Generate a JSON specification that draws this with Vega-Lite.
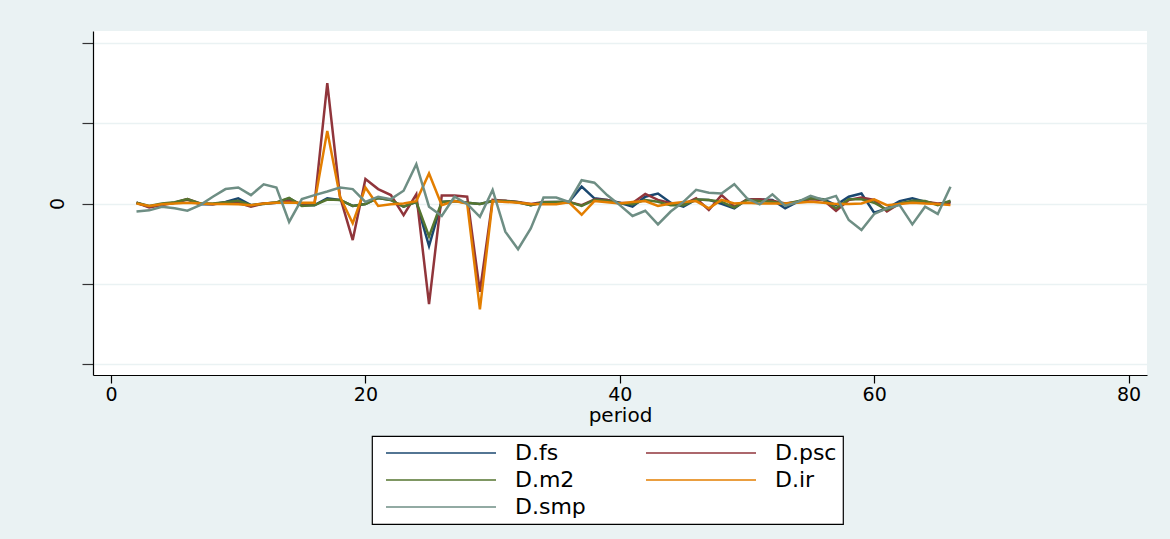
{
  "$schema": "https://vega.github.io/schema/vega-lite/v6.json",
  "width": 1054,
  "height": 344,
  "autosize": {"type": "none"},
  "padding": {"left": 93, "top": 31, "right": 23, "bottom": 164},
  "background": "#eaf2f3",
  "config": {
    "view": {"fill": "white", "stroke": null},
    "font": "DejaVu Sans",
    "legend": {"strokeWidth": 1.2}
  },
  "data": {
    "values": [
      {"period":2,"series":"D.fs","value":0.01},{"period":3,"series":"D.fs","value":-0.04},{"period":4,"series":"D.fs","value":-0.01},{"period":5,"series":"D.fs","value":0.01},{"period":6,"series":"D.fs","value":0.05},{"period":7,"series":"D.fs","value":-0.01},{"period":8,"series":"D.fs","value":-0.01},{"period":9,"series":"D.fs","value":0.02},{"period":10,"series":"D.fs","value":0.065},{"period":11,"series":"D.fs","value":-0.02},{"period":12,"series":"D.fs","value":0},{"period":13,"series":"D.fs","value":0.01},{"period":14,"series":"D.fs","value":0.065},{"period":15,"series":"D.fs","value":-0.02},{"period":16,"series":"D.fs","value":-0.02},{"period":17,"series":"D.fs","value":0.065},{"period":18,"series":"D.fs","value":0.045},{"period":19,"series":"D.fs","value":-0.03},{"period":20,"series":"D.fs","value":-0.005},{"period":21,"series":"D.fs","value":0.07},{"period":22,"series":"D.fs","value":0.045},{"period":23,"series":"D.fs","value":-0.04},{"period":24,"series":"D.fs","value":0.02},{"period":25,"series":"D.fs","value":-0.53},{"period":26,"series":"D.fs","value":0.02},{"period":27,"series":"D.fs","value":0.03},{"period":28,"series":"D.fs","value":0.01},{"period":29,"series":"D.fs","value":-0.005},{"period":30,"series":"D.fs","value":0.03},{"period":31,"series":"D.fs","value":0.03},{"period":32,"series":"D.fs","value":0.015},{"period":33,"series":"D.fs","value":-0.02},{"period":34,"series":"D.fs","value":0.015},{"period":35,"series":"D.fs","value":0.02},{"period":36,"series":"D.fs","value":0.02},{"period":37,"series":"D.fs","value":0.21},{"period":38,"series":"D.fs","value":0.065},{"period":39,"series":"D.fs","value":0.045},{"period":40,"series":"D.fs","value":0.01},{"period":41,"series":"D.fs","value":-0.04},{"period":42,"series":"D.fs","value":0.085},{"period":43,"series":"D.fs","value":0.125},{"period":44,"series":"D.fs","value":0.01},{"period":45,"series":"D.fs","value":-0.04},{"period":46,"series":"D.fs","value":0.05},{"period":47,"series":"D.fs","value":0.045},{"period":48,"series":"D.fs","value":-0.005},{"period":49,"series":"D.fs","value":-0.06},{"period":50,"series":"D.fs","value":0.05},{"period":51,"series":"D.fs","value":0.05},{"period":52,"series":"D.fs","value":0.044},{"period":53,"series":"D.fs","value":-0.06},{"period":54,"series":"D.fs","value":0.023},{"period":55,"series":"D.fs","value":0.065},{"period":56,"series":"D.fs","value":0.052},{"period":57,"series":"D.fs","value":-0.02},{"period":58,"series":"D.fs","value":0.085},{"period":59,"series":"D.fs","value":0.125},{"period":60,"series":"D.fs","value":-0.115},{"period":61,"series":"D.fs","value":-0.06},{"period":62,"series":"D.fs","value":0.03},{"period":63,"series":"D.fs","value":0.065},{"period":64,"series":"D.fs","value":0.023},{"period":65,"series":"D.fs","value":-0.01},{"period":66,"series":"D.fs","value":0.023},

      {"period":2,"series":"D.psc","value":0.01},{"period":3,"series":"D.psc","value":-0.05},{"period":4,"series":"D.psc","value":-0.02},{"period":5,"series":"D.psc","value":0.01},{"period":6,"series":"D.psc","value":0.055},{"period":7,"series":"D.psc","value":0},{"period":8,"series":"D.psc","value":-0.01},{"period":9,"series":"D.psc","value":0.01},{"period":10,"series":"D.psc","value":0.01},{"period":11,"series":"D.psc","value":-0.04},{"period":12,"series":"D.psc","value":0},{"period":13,"series":"D.psc","value":0.01},{"period":14,"series":"D.psc","value":0.035},{"period":15,"series":"D.psc","value":-0.01},{"period":16,"series":"D.psc","value":0},{"period":17,"series":"D.psc","value":1.5},{"period":18,"series":"D.psc","value":0.085},{"period":19,"series":"D.psc","value":-0.455},{"period":20,"series":"D.psc","value":0.305},{"period":21,"series":"D.psc","value":0.18},{"period":22,"series":"D.psc","value":0.105},{"period":23,"series":"D.psc","value":-0.145},{"period":24,"series":"D.psc","value":0.115},{"period":25,"series":"D.psc","value":-1.255},{"period":26,"series":"D.psc","value":0.1},{"period":27,"series":"D.psc","value":0.1},{"period":28,"series":"D.psc","value":0.085},{"period":29,"series":"D.psc","value":-1.1},{"period":30,"series":"D.psc","value":0.045},{"period":31,"series":"D.psc","value":0.035},{"period":32,"series":"D.psc","value":0.02},{"period":33,"series":"D.psc","value":-0.005},{"period":34,"series":"D.psc","value":0.02},{"period":35,"series":"D.psc","value":0.015},{"period":36,"series":"D.psc","value":0.02},{"period":37,"series":"D.psc","value":-0.02},{"period":38,"series":"D.psc","value":0.05},{"period":39,"series":"D.psc","value":0.045},{"period":40,"series":"D.psc","value":0.005},{"period":41,"series":"D.psc","value":0.005},{"period":42,"series":"D.psc","value":0.12},{"period":43,"series":"D.psc","value":0.045},{"period":44,"series":"D.psc","value":0.005},{"period":45,"series":"D.psc","value":-0.01},{"period":46,"series":"D.psc","value":0.065},{"period":47,"series":"D.psc","value":-0.08},{"period":48,"series":"D.psc","value":0.105},{"period":49,"series":"D.psc","value":-0.04},{"period":50,"series":"D.psc","value":0.05},{"period":51,"series":"D.psc","value":0.052},{"period":52,"series":"D.psc","value":0.035},{"period":53,"series":"D.psc","value":0},{"period":54,"series":"D.psc","value":0.023},{"period":55,"series":"D.psc","value":0.052},{"period":56,"series":"D.psc","value":0.044},{"period":57,"series":"D.psc","value":-0.09},{"period":58,"series":"D.psc","value":0.044},{"period":59,"series":"D.psc","value":0.075},{"period":60,"series":"D.psc","value":0.044},{"period":61,"series":"D.psc","value":-0.1},{"period":62,"series":"D.psc","value":0},{"period":63,"series":"D.psc","value":0.023},{"period":64,"series":"D.psc","value":0.023},{"period":65,"series":"D.psc","value":0},{"period":66,"series":"D.psc","value":0.01},

      {"period":2,"series":"D.m2","value":0.01},{"period":3,"series":"D.m2","value":-0.03},{"period":4,"series":"D.m2","value":0},{"period":5,"series":"D.m2","value":0.015},{"period":6,"series":"D.m2","value":0.055},{"period":7,"series":"D.m2","value":0},{"period":8,"series":"D.m2","value":0},{"period":9,"series":"D.m2","value":0.015},{"period":10,"series":"D.m2","value":0.035},{"period":11,"series":"D.m2","value":-0.02},{"period":12,"series":"D.m2","value":-0.005},{"period":13,"series":"D.m2","value":0.015},{"period":14,"series":"D.m2","value":0.07},{"period":15,"series":"D.m2","value":-0.03},{"period":16,"series":"D.m2","value":-0.02},{"period":17,"series":"D.m2","value":0.05},{"period":18,"series":"D.m2","value":0.045},{"period":19,"series":"D.m2","value":-0.03},{"period":20,"series":"D.m2","value":-0.005},{"period":21,"series":"D.m2","value":0.07},{"period":22,"series":"D.m2","value":0.045},{"period":23,"series":"D.m2","value":-0.04},{"period":24,"series":"D.m2","value":0.02},{"period":25,"series":"D.m2","value":-0.41},{"period":26,"series":"D.m2","value":0.02},{"period":27,"series":"D.m2","value":0.03},{"period":28,"series":"D.m2","value":0.01},{"period":29,"series":"D.m2","value":-0.005},{"period":30,"series":"D.m2","value":0.03},{"period":31,"series":"D.m2","value":0.03},{"period":32,"series":"D.m2","value":0.015},{"period":33,"series":"D.m2","value":-0.02},{"period":34,"series":"D.m2","value":0.015},{"period":35,"series":"D.m2","value":0.02},{"period":36,"series":"D.m2","value":0.02},{"period":37,"series":"D.m2","value":-0.03},{"period":38,"series":"D.m2","value":0.045},{"period":39,"series":"D.m2","value":0.035},{"period":40,"series":"D.m2","value":0.005},{"period":41,"series":"D.m2","value":-0.01},{"period":42,"series":"D.m2","value":0.045},{"period":43,"series":"D.m2","value":0.023},{"period":44,"series":"D.m2","value":-0.02},{"period":45,"series":"D.m2","value":-0.02},{"period":46,"series":"D.m2","value":0.05},{"period":47,"series":"D.m2","value":0.045},{"period":48,"series":"D.m2","value":0.023},{"period":49,"series":"D.m2","value":-0.05},{"period":50,"series":"D.m2","value":0.044},{"period":51,"series":"D.m2","value":0.03},{"period":52,"series":"D.m2","value":0.023},{"period":53,"series":"D.m2","value":-0.006},{"period":54,"series":"D.m2","value":0.03},{"period":55,"series":"D.m2","value":0.065},{"period":56,"series":"D.m2","value":0.052},{"period":57,"series":"D.m2","value":-0.06},{"period":58,"series":"D.m2","value":0.052},{"period":59,"series":"D.m2","value":0.052},{"period":60,"series":"D.m2","value":0.01},{"period":61,"series":"D.m2","value":-0.08},{"period":62,"series":"D.m2","value":0},{"period":63,"series":"D.m2","value":0.035},{"period":64,"series":"D.m2","value":0.03},{"period":65,"series":"D.m2","value":-0.02},{"period":66,"series":"D.m2","value":0.035},

      {"period":2,"series":"D.ir","value":0},{"period":3,"series":"D.ir","value":-0.03},{"period":4,"series":"D.ir","value":-0.01},{"period":5,"series":"D.ir","value":0},{"period":6,"series":"D.ir","value":0.01},{"period":7,"series":"D.ir","value":0},{"period":8,"series":"D.ir","value":-0.005},{"period":9,"series":"D.ir","value":-0.005},{"period":10,"series":"D.ir","value":-0.01},{"period":11,"series":"D.ir","value":-0.02},{"period":12,"series":"D.ir","value":0},{"period":13,"series":"D.ir","value":0.01},{"period":14,"series":"D.ir","value":0.01},{"period":15,"series":"D.ir","value":0.01},{"period":16,"series":"D.ir","value":0.01},{"period":17,"series":"D.ir","value":0.905},{"period":18,"series":"D.ir","value":0.085},{"period":19,"series":"D.ir","value":-0.245},{"period":20,"series":"D.ir","value":0.2},{"period":21,"series":"D.ir","value":-0.03},{"period":22,"series":"D.ir","value":-0.01},{"period":23,"series":"D.ir","value":0},{"period":24,"series":"D.ir","value":0.03},{"period":25,"series":"D.ir","value":0.375},{"period":26,"series":"D.ir","value":-0.02},{"period":27,"series":"D.ir","value":0.03},{"period":28,"series":"D.ir","value":0},{"period":29,"series":"D.ir","value":-1.32},{"period":30,"series":"D.ir","value":0.03},{"period":31,"series":"D.ir","value":0.02},{"period":32,"series":"D.ir","value":0.01},{"period":33,"series":"D.ir","value":-0.005},{"period":34,"series":"D.ir","value":-0.01},{"period":35,"series":"D.ir","value":-0.01},{"period":36,"series":"D.ir","value":0.015},{"period":37,"series":"D.ir","value":-0.14},{"period":38,"series":"D.ir","value":0.03},{"period":39,"series":"D.ir","value":0.015},{"period":40,"series":"D.ir","value":0},{"period":41,"series":"D.ir","value":0.02},{"period":42,"series":"D.ir","value":0.03},{"period":43,"series":"D.ir","value":-0.03},{"period":44,"series":"D.ir","value":0},{"period":45,"series":"D.ir","value":0.02},{"period":46,"series":"D.ir","value":0.03},{"period":47,"series":"D.ir","value":-0.06},{"period":48,"series":"D.ir","value":0.045},{"period":49,"series":"D.ir","value":0},{"period":50,"series":"D.ir","value":0.01},{"period":51,"series":"D.ir","value":0},{"period":52,"series":"D.ir","value":0},{"period":53,"series":"D.ir","value":0},{"period":54,"series":"D.ir","value":0.01},{"period":55,"series":"D.ir","value":0.023},{"period":56,"series":"D.ir","value":0.01},{"period":57,"series":"D.ir","value":-0.006},{"period":58,"series":"D.ir","value":-0.006},{"period":59,"series":"D.ir","value":0},{"period":60,"series":"D.ir","value":0.052},{"period":61,"series":"D.ir","value":-0.02},{"period":62,"series":"D.ir","value":-0.006},{"period":63,"series":"D.ir","value":0.01},{"period":64,"series":"D.ir","value":0},{"period":65,"series":"D.ir","value":-0.006},{"period":66,"series":"D.ir","value":-0.02},

      {"period":2,"series":"D.smp","value":-0.1},{"period":3,"series":"D.smp","value":-0.085},{"period":4,"series":"D.smp","value":-0.04},{"period":5,"series":"D.smp","value":-0.06},{"period":6,"series":"D.smp","value":-0.09},{"period":7,"series":"D.smp","value":-0.02},{"period":8,"series":"D.smp","value":0.085},{"period":9,"series":"D.smp","value":0.18},{"period":10,"series":"D.smp","value":0.2},{"period":11,"series":"D.smp","value":0.105},{"period":12,"series":"D.smp","value":0.24},{"period":13,"series":"D.smp","value":0.2},{"period":14,"series":"D.smp","value":-0.23},{"period":15,"series":"D.smp","value":0.055},{"period":16,"series":"D.smp","value":0.105},{"period":17,"series":"D.smp","value":0.15},{"period":18,"series":"D.smp","value":0.2},{"period":19,"series":"D.smp","value":0.18},{"period":20,"series":"D.smp","value":0.02},{"period":21,"series":"D.smp","value":0.085},{"period":22,"series":"D.smp","value":0.055},{"period":23,"series":"D.smp","value":0.16},{"period":24,"series":"D.smp","value":0.49},{"period":25,"series":"D.smp","value":-0.04},{"period":26,"series":"D.smp","value":-0.155},{"period":27,"series":"D.smp","value":0.085},{"period":28,"series":"D.smp","value":-0.005},{"period":29,"series":"D.smp","value":-0.165},{"period":30,"series":"D.smp","value":0.17},{"period":31,"series":"D.smp","value":-0.35},{"period":32,"series":"D.smp","value":-0.57},{"period":33,"series":"D.smp","value":-0.31},{"period":34,"series":"D.smp","value":0.075},{"period":35,"series":"D.smp","value":0.075},{"period":36,"series":"D.smp","value":0.02},{"period":37,"series":"D.smp","value":0.29},{"period":38,"series":"D.smp","value":0.26},{"period":39,"series":"D.smp","value":0.105},{"period":40,"series":"D.smp","value":-0.02},{"period":41,"series":"D.smp","value":-0.155},{"period":42,"series":"D.smp","value":-0.09},{"period":43,"series":"D.smp","value":-0.26},{"period":44,"series":"D.smp","value":-0.1},{"period":45,"series":"D.smp","value":0.02},{"period":46,"series":"D.smp","value":0.17},{"period":47,"series":"D.smp","value":0.135},{"period":48,"series":"D.smp","value":0.125},{"period":49,"series":"D.smp","value":0.24},{"period":50,"series":"D.smp","value":0.065},{"period":51,"series":"D.smp","value":-0.01},{"period":52,"series":"D.smp","value":0.115},{"period":53,"series":"D.smp","value":-0.03},{"period":54,"series":"D.smp","value":0.02},{"period":55,"series":"D.smp","value":0.095},{"period":56,"series":"D.smp","value":0.045},{"period":57,"series":"D.smp","value":0.095},{"period":58,"series":"D.smp","value":-0.205},{"period":59,"series":"D.smp","value":-0.33},{"period":60,"series":"D.smp","value":-0.13},{"period":61,"series":"D.smp","value":-0.06},{"period":62,"series":"D.smp","value":-0.02},{"period":63,"series":"D.smp","value":-0.26},{"period":64,"series":"D.smp","value":-0.04},{"period":65,"series":"D.smp","value":-0.13},{"period":66,"series":"D.smp","value":0.21}
    ]
  },
  "mark": {"type": "line", "strokeWidth": 2.5, "clip": true},
  "encoding": {
    "x": {
      "field": "period",
      "type": "quantitative",
      "scale": {"domain": [-1.42, 81.45], "nice": false, "zero": false},
      "axis": {
        "values": [0, 20, 40, 60, 80],
        "grid": false,
        "domainColor": "#000000",
        "domainWidth": 1.2,
        "tickColor": "#000000",
        "tickSize": 8,
        "tickWidth": 1.2,
        "labelFontSize": 19,
        "labelColor": "#000000",
        "labelPadding": 2,
        "title": "period",
        "titleFontSize": 20,
        "titleFontWeight": "normal",
        "titleColor": "#000000",
        "titlePadding": 1
      }
    },
    "y": {
      "field": "value",
      "type": "quantitative",
      "scale": {"domain": [-2.137, 2.15], "nice": false, "zero": false},
      "axis": {
        "values": [-2, -1, 0, 1, 2],
        "grid": true,
        "gridColor": "#eaf2f3",
        "gridWidth": 1.5,
        "domainColor": "#000000",
        "domainWidth": 1.2,
        "tickColor": "#333333",
        "tickSize": 11,
        "tickWidth": 1.2,
        "labelExpr": "datum.value == 0 ? '0' : ''",
        "labelAngle": -90,
        "labelFontSize": 19,
        "labelColor": "#000000",
        "labelPadding": 15,
        "title": null
      }
    },
    "color": {
      "field": "series",
      "type": "nominal",
      "sort": ["D.fs", "D.psc", "D.m2", "D.ir", "D.smp"],
      "scale": {
        "domain": ["D.fs", "D.psc", "D.m2", "D.ir", "D.smp"],
        "range": ["#1a476f", "#90353b", "#55752f", "#e37e00", "#6e8e84"]
      },
      "legend": {
        "title": null,
        "orient": "none",
        "legendX": 279,
        "legendY": 405,
        "columns": 2,
        "direction": "horizontal",
        "fillColor": "#ffffff",
        "strokeColor": "#000000",
        "padding": 6,
        "symbolType": "M-5.5,0H5.5",
        "symbolSize": 400,
        "symbolOffset": 52,
        "symbolStrokeWidth": 1.6,
        "labelFontSize": 22,
        "labelColor": "#000000",
        "labelOffset": 63,
        "labelLimit": 200,
        "columnPadding": 52,
        "rowPadding": 5,
        "gridAlign": "each"
      }
    }
  }
}
